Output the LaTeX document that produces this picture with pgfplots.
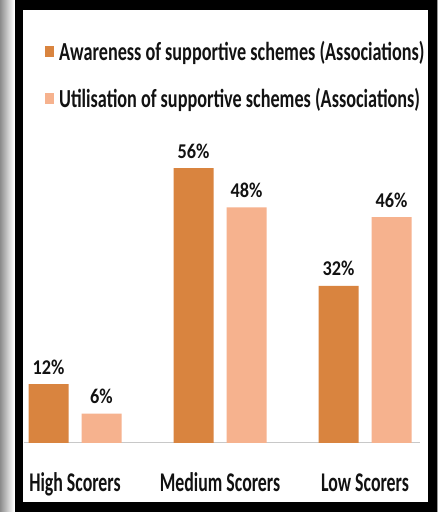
\documentclass[border=0pt]{standalone}
\usepackage{pgfplots}
\pgfplotsset{compat=1.18}
\usepackage{fontspec}
\setmainfont{Carlito}
\newfontfamily\legfont{Carlito}[FakeStretch=0.70]
\newfontfamily\tickfont{Carlito}[FakeStretch=0.66]
\newfontfamily\valfont{Carlito}[FakeStretch=0.87]
\definecolor{darkor}{HTML}{D9843F}
\definecolor{lightor}{HTML}{F6B28E}
\definecolor{axgray}{HTML}{C8C8C8}
\begin{document}
\begin{tikzpicture}[x=1bp,y=1bp]
\useasboundingbox (0,0) rectangle (438,512);
% page decoration: shadow strip and black frame
\shade[left color=black!45, right color=white] (0,0) rectangle (14,512);
\fill[black] (15,0) rectangle (437,512);
\fill[white] (23,10) rectangle (428,502);
\fill[black!40] (437,0) rectangle (438,512);
\begin{axis}[
  scale only axis,
  width=395.85bp, height=294.6bp,
  at={(24.25bp,69bp)}, anchor=south west,
  ybar,
  xmin=-0.35, xmax=2.38,
  ymin=0, ymax=60,
  axis y line=none,
  axis x line*=bottom,
  x axis line style={axgray, line width=1bp, -},
  xtick={0,1,2},
  xticklabels={High Scorers, Medium Scorers, Low Scorers},
  major tick length=0pt,
  xticklabel style={anchor=base, yshift=-48bp, text=black!93,
    font=\tickfont\bfseries\fontsize{27bp}{30bp}\selectfont},
  bar width=40bp,
  nodes near coords={\pgfmathprintnumber[assume math mode=true]{\pgfplotspointmeta}\%},
  every node near coord/.append style={anchor=base, yshift=10bp, text=black!93,
    font=\valfont\bfseries\fontsize{21bp}{24bp}\selectfont},
  clip=false,
  legend image code/.code={\fill[#1, draw=none] (0bp,-5.5bp) rectangle (9bp,5.5bp);},
  legend style={at={(axis description cs:0.0524,1.365)}, anchor=north west,
    draw=none, fill=none, inner sep=0pt, row sep=26bp, column sep=5bp,
    nodes={inner sep=0pt, text=black!93}, cells={anchor=west},
    font=\legfont\bfseries\fontsize{26bp}{30bp}\selectfont},
]
\addplot[fill=darkor, draw=none, bar shift=-26.5bp] coordinates {(0,12) (1,56) (2,32)};
\addlegendentry{Awareness of supportive schemes (Associations)}
\addplot[fill=lightor, draw=none, bar shift=26.5bp] coordinates {(0,6) (1,48) (2,46)};
\addlegendentry{Utilisation of supportive schemes (Associations)}
\end{axis}
\end{tikzpicture}
\end{document}
